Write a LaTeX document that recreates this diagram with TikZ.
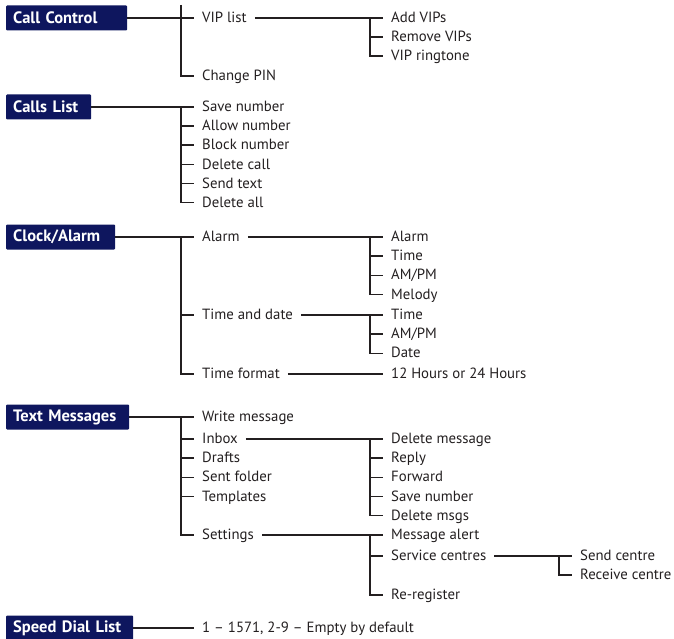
\documentclass[tikz,border=0pt]{standalone}
\usepackage{fontspec}
\setmainfont{PT Sans}
\usetikzlibrary{positioning}
\definecolor{menunavy}{RGB}{14,22,94}
\definecolor{menuink}{RGB}{35,31,32}

\begin{document}
\begin{tikzpicture}[
    x=1pt, y=-1pt,
    head/.style={rectangle, fill=menunavy, rounded corners=1pt, text=white,
      font=\fontsize{16.5}{16.5}\selectfont\bfseries, anchor=west, minimum height=25pt,
      inner xsep=7pt, text width=#1, align=left},
    item/.style={font=\fontsize{14.8}{14.8}\selectfont, text=menuink, anchor=west,
      inner xsep=8pt, inner ysep=2.6pt, text height=11.5pt, text depth=2pt},
    under/.style={below=0pt of #1.south west, anchor=north west},
    link/.style={draw=menuink, line width=1.4pt}
  ]
    \useasboundingbox (0,0) rectangle (674,639);

    % Call Control
    \node[head=107pt] (cc) at (6,18) {Call Control};
    \node[item] (vip) at (194,18) {VIP list};
    \node[item] (pin) at (194,76) {Change PIN};
    \node[item] (addvip) at (383,18) {Add VIPs};
    \node[item, under=addvip] (remvip) {Remove VIPs};
    \node[item, under=remvip] (ring) {VIP ringtone};
    \draw[link] (cc) -- (vip);
    \draw[link] ([shift={(-13,-13)}]vip.west) |- (pin.west);
    \draw[link] (vip) -- (addvip);
    \draw[link] ([xshift=-13pt]addvip.west) |- (ring.west);
    \draw[link] ([xshift=-13pt]remvip.west) -- (remvip.west);

    % Calls List
    \node[head=71pt] (cl) at (6,107) {Calls List};
    \node[item] (save) at (194,107) {Save number};
    \node[item, under=save] (allow) {Allow number};
    \node[item, under=allow] (block) {Block number};
    \node[item, under=block] (delcall) {Delete call};
    \node[item, under=delcall] (send) {Send text};
    \node[item, under=send] (delall) {Delete all};
    \draw[link] (cl) -- (save);
    \draw[link] ([xshift=-13pt]save.west) |- (delall.west);
    \foreach \n in {allow,block,delcall,send}
      \draw[link] ([xshift=-13pt]\n.west) -- (\n.west);

    % Clock/Alarm
    \node[head=95pt] (ca) at (6,237) {Clock/Alarm};
    \node[item] (alarm) at (194,237) {Alarm};
    \node[item] (tad) at (194,315) {Time and date};
    \node[item] (tfmt) at (194,374) {Time format};
    \node[item] (alalarm) at (383,237) {Alarm};
    \node[item, under=alalarm] (altime) {Time};
    \node[item, under=altime] (alampm) {AM/PM};
    \node[item, under=alampm] (almelody) {Melody};
    \node[item] (dttime) at (383,315) {Time};
    \node[item, under=dttime] (dtampm) {AM/PM};
    \node[item, under=dtampm] (dtdate) {Date};
    \node[item] (hours) at (383,374) {12 Hours or 24 Hours};
    \draw[link] (ca) -- (alarm);
    \draw[link] ([xshift=-13pt]alarm.west) |- (tfmt.west);
    \draw[link] ([xshift=-13pt]tad.west) -- (tad.west);
    \draw[link] (alarm) -- (alalarm);
    \draw[link] ([xshift=-13pt]alalarm.west) |- (almelody.west);
    \foreach \n in {altime,alampm}
      \draw[link] ([xshift=-13pt]\n.west) -- (\n.west);
    \draw[link] (tad) -- (dttime);
    \draw[link] ([xshift=-13pt]dttime.west) |- (dtdate.west);
    \draw[link] ([xshift=-13pt]dtampm.west) -- (dtampm.west);
    \draw[link] (tfmt) -- (hours);

    % Text Messages
    \node[head=109pt] (tm) at (6,417) {Text Messages};
    \node[item] (write) at (194,417) {Write message};
    \node[item] (inbox) at (194,439) {Inbox};
    \node[item, under=inbox] (drafts) {Drafts};
    \node[item, under=drafts] (sent) {Sent folder};
    \node[item, under=sent] (tmpl) {Templates};
    \node[item] (settings) at (194,535) {Settings};
    \node[item] (delmsg) at (383,439) {Delete message};
    \node[item, under=delmsg] (reply) {Reply};
    \node[item, under=reply] (fwd) {Forward};
    \node[item, under=fwd] (savenum) {Save number};
    \node[item, under=savenum] (delmsgs) {Delete msgs};
    \node[item] (alert) at (383,535) {Message alert};
    \node[item] (svc) at (383,556) {Service centres};
    \node[item] (rereg) at (383,595) {Re-register};
    \node[item] (sendc) at (572,556) {Send centre};
    \node[item, under=sendc] (recvc) {Receive centre};
    \draw[link] (tm) -- (write);
    \draw[link] ([xshift=-13pt]write.west) |- (settings.west);
    \foreach \n in {inbox,drafts,sent,tmpl}
      \draw[link] ([xshift=-13pt]\n.west) -- (\n.west);
    \draw[link] (inbox) -- (delmsg);
    \draw[link] ([xshift=-13pt]delmsg.west) |- (delmsgs.west);
    \foreach \n in {reply,fwd,savenum}
      \draw[link] ([xshift=-13pt]\n.west) -- (\n.west);
    \draw[link] (settings) -- (alert);
    \draw[link] ([xshift=-13pt]alert.west) |- (rereg.west);
    \draw[link] ([xshift=-13pt]svc.west) -- (svc.west);
    \draw[link] (svc) -- (sendc);
    \draw[link] ([xshift=-13pt]sendc.west) |- (recvc.west);

    % Speed Dial List
    \node[head=113pt] (sd) at (6,628) {Speed Dial List};
    \node[item] (slots) at (194,628) {1 – 1571, 2-9 – Empty by default};
    \draw[link] (sd) -- (slots);
  \end{tikzpicture}
\end{document}
